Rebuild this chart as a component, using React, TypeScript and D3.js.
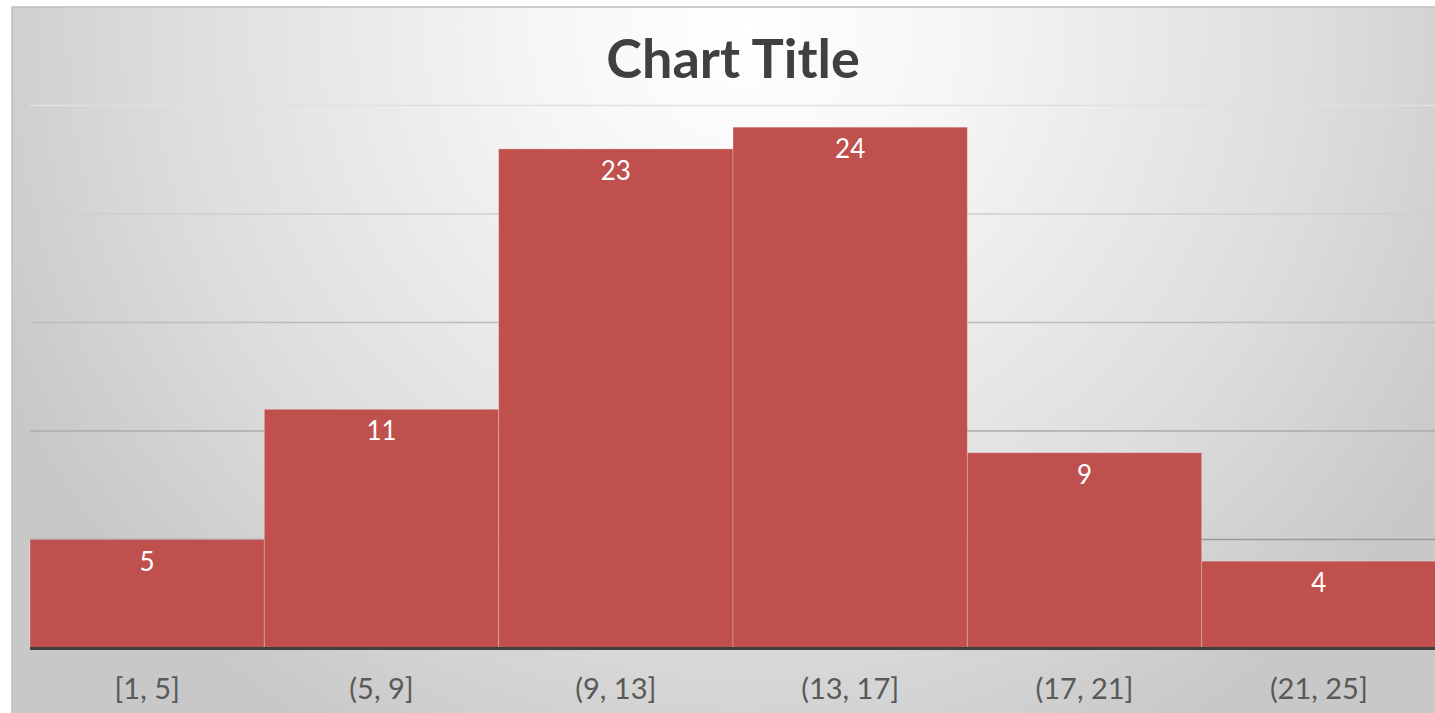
import * as d3 from "d3";

const bins = ["[1, 5]", "(5, 9]", "(9, 13]", "(13, 17]", "(17, 21]", "(21, 25]"];
const counts = [5, 11, 23, 24, 9, 4];
const gridTicks = [5, 10, 15, 20, 25];
const chartTitle = "Chart Title";

const W = 1435;
const H = 713;
const plotLeft = 30;
const plotRight = 1436;
const baseY = 648;
const topY = 105.5;

const FONT = "Lato, 'Open Sans', sans-serif";

export default function App() {
  const x = d3.scaleBand<string>().domain(bins).range([plotLeft, plotRight]).padding(0);
  const y = d3.scaleLinear().domain([0, 25]).range([baseY, topY]);

  return (
    <svg
      width={W}
      height={H}
      style={{ position: "absolute", left: 0, top: 0, display: "block" }}
    >
      <defs>
        <radialGradient id="bg" gradientUnits="userSpaceOnUse" cx={745} cy={30} r={820}>
          <stop offset="0" stopColor="#ffffff" />
          <stop offset="0.25" stopColor="#f6f6f6" />
          <stop offset="0.7" stopColor="#dddddd" />
          <stop offset="1" stopColor="#c8c8c8" />
        </radialGradient>
        <linearGradient id="grid" gradientUnits="userSpaceOnUse" x1={0} y1={topY} x2={0} y2={baseY}>
          <stop offset="0" stopColor="#e0e0e0" />
          <stop offset="1" stopColor="#888888" />
        </linearGradient>
      </defs>
      <rect x={0} y={0} width={W} height={H} fill="#ffffff" />
      <rect x={12} y={7} width={W} height={H} fill="url(#bg)" stroke="#bfbfbf" strokeWidth={1.5} />

      <text
        x={733}
        y={78}
        textAnchor="middle"
        fontFamily={FONT}
        fontWeight={700}
        fontSize={54}
        fill="#404040"
      >
        {chartTitle}
      </text>

      {gridTicks.map((t) => (
        <line
          key={t}
          x1={plotLeft}
          x2={W}
          y1={y(t)}
          y2={y(t)}
          stroke="url(#grid)"
          strokeWidth={1.5}
        />
      ))}

      {bins.map((b, i) => (
        <rect
          key={b}
          x={x(b)}
          y={y(counts[i])}
          width={x.bandwidth()}
          height={baseY - y(counts[i])}
          fill="#c0504d"
          stroke="rgba(255,255,255,0.25)"
          strokeWidth={1}
        />
      ))}

      {bins.map((b, i) => (
        <text
          key={"v" + b}
          x={(x(b) as number) + x.bandwidth() / 2}
          y={y(counts[i]) + 31}
          textAnchor="middle"
          fontFamily={FONT}
          fontSize={26}
          fill="#ffffff"
        >
          {counts[i]}
        </text>
      ))}

      <line x1={plotLeft} x2={W} y1={baseY + 0.5} y2={baseY + 0.5} stroke="#404040" strokeWidth={3} />

      {bins.map((b) => (
        <text
          key={"l" + b}
          x={(x(b) as number) + x.bandwidth() / 2}
          y={699}
          textAnchor="middle"
          fontFamily={FONT}
          fontSize={29}
          fill="#595959"
        >
          {b}
        </text>
      ))}
    </svg>
  );
}
